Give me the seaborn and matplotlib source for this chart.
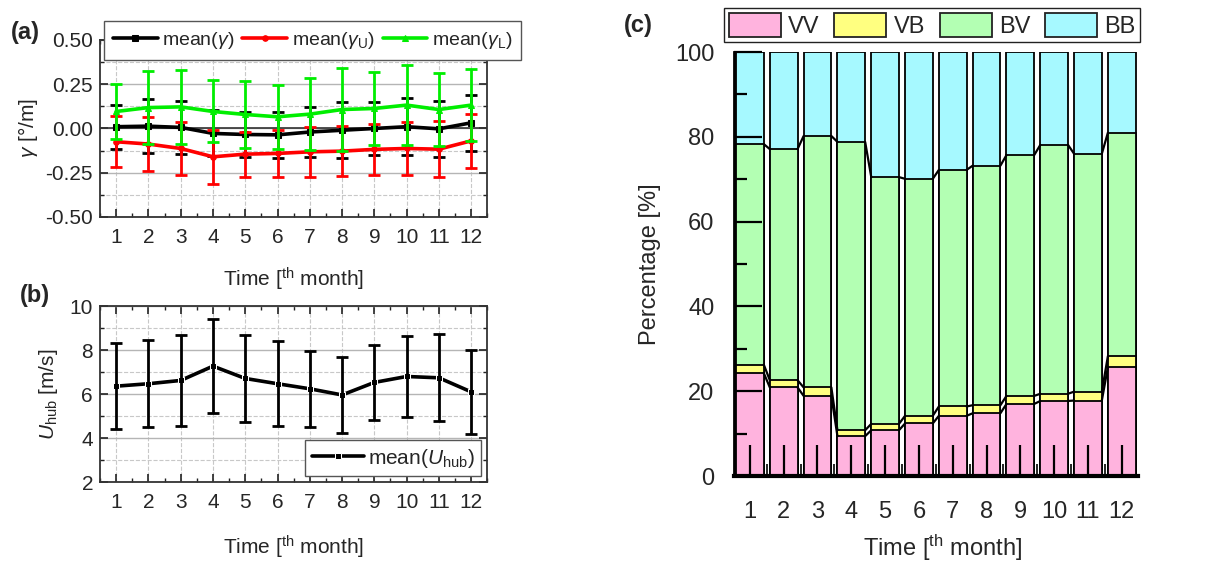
import numpy as np
import matplotlib
matplotlib.use('Agg')
import matplotlib.pyplot as plt
from matplotlib.ticker import MultipleLocator, FixedLocator
from matplotlib.patches import Patch
import seaborn as sns

# data
months = np.arange(1, 13)
gam_mean = [0.010, 0.013, 0.006, -0.028, -0.034, -0.036, -0.020, -0.010, 0.000, 0.010, -0.002, 0.032]
gam_err = [0.125, 0.151, 0.150, 0.130, 0.127, 0.130, 0.142, 0.158, 0.148, 0.160, 0.157, 0.157]
gamU_mean = [-0.075, -0.088, -0.113, -0.160, -0.145, -0.141, -0.132, -0.128, -0.118, -0.113, -0.117, -0.070]
gamU_err = [0.143, 0.150, 0.147, 0.151, 0.127, 0.135, 0.141, 0.143, 0.142, 0.147, 0.159, 0.154]
gamL_mean = [0.096, 0.118, 0.122, 0.096, 0.079, 0.066, 0.081, 0.107, 0.113, 0.132, 0.107, 0.132]
gamL_err = [0.158, 0.205, 0.208, 0.175, 0.189, 0.181, 0.203, 0.232, 0.207, 0.227, 0.208, 0.203]

u_mean = [6.36, 6.47, 6.62, 7.27, 6.71, 6.47, 6.24, 5.96, 6.53, 6.80, 6.74, 6.10]
u_err = [1.96, 1.97, 2.07, 2.13, 1.97, 1.93, 1.73, 1.74, 1.70, 1.82, 1.98, 1.90]

vv = [24.3, 20.9, 18.9, 9.4, 10.8, 12.4, 14.2, 14.8, 17.0, 17.7, 17.8, 25.7]
vb = [2.0, 1.7, 2.0, 1.4, 1.5, 1.8, 2.2, 1.9, 1.9, 1.7, 2.1, 2.6]
bv = [52.0, 54.5, 59.3, 68.0, 58.2, 55.9, 55.8, 56.5, 56.8, 58.7, 56.1, 52.7]
bb = [21.7, 22.9, 19.8, 21.2, 29.5, 29.9, 27.8, 26.8, 24.3, 21.9, 24.0, 19.0]

stack_names = ['VV', 'VB', 'BV', 'BB']
stack_colors = ['#FFB3DE', '#FFFF80', '#B3FFB3', '#A6F9FF']

sns.set_theme(style='ticks')
plt.rcParams['font.family'] = ['Liberation Sans', 'DejaVu Sans']
plt.rcParams['mathtext.fontset'] = 'custom'
plt.rcParams['mathtext.rm'] = 'Liberation Sans'
plt.rcParams['mathtext.it'] = 'Liberation Sans:italic'
plt.rcParams['font.size'] = 15

fig = plt.figure(figsize=(12.14, 5.62), dpi=100)
ax_a = fig.add_axes([0.0824, 0.6139, 0.319, 0.315])
ax_b = fig.add_axes([0.0824, 0.1423, 0.319, 0.313])
ax_c = fig.add_axes([0.6046, 0.153, 0.3328, 0.7544])

xlab = r'Time [$^{\rm th}$ month]'


def style_line_axes(ax):
    ax.set_xlim(0.5, 12.5)
    ax.xaxis.set_major_locator(MultipleLocator(1))
    ax.xaxis.set_minor_locator(MultipleLocator(0.5))
    ax.tick_params(which='both', direction='in', labelsize=15, color='#222222',
                   top=True, right=True)
    ax.tick_params(which='major', length=6, width=1.2)
    ax.tick_params(which='minor', length=3, width=1)
    ax.tick_params(axis='x', pad=8)
    ax.tick_params(axis='y', pad=5)
    ax.grid(which='major', axis='y', color='#b5b5b5', ls='-', lw=1)
    ax.grid(which='minor', axis='y', color='#c8c8c8', ls='--', lw=0.8)
    ax.grid(which='major', axis='x', color='#c8c8c8', ls='--', lw=0.8)
    for s in ax.spines.values():
        s.set_visible(True)
        s.set_color('#333333')
        s.set_linewidth(1.3)


# (a)
series = [(gam_mean, gam_err, 'black', 's', r'mean($\gamma$)'),
          (gamU_mean, gamU_err, '#FF0000', 'o', r'mean($\gamma_{\rm U}$)'),
          (gamL_mean, gamL_err, '#00EE00', '^', r'mean($\gamma_{\rm L}$)')]
ax_a.axhline(0, color='#333333', lw=1.2, zorder=1)
for m, e, c, mk, lab in series:
    sns.lineplot(x=months, y=m, color=c, marker=mk, markersize=4, lw=2.6,
                 markeredgecolor=c, ax=ax_a, label=lab, zorder=3)
    ax_a.errorbar(months, m, yerr=e, fmt='none', ecolor=c, elinewidth=2,
                  capsize=4, capthick=2, zorder=3)
style_line_axes(ax_a)
ax_a.set_ylim(-0.5, 0.5)
ax_a.yaxis.set_major_locator(MultipleLocator(0.25))
ax_a.yaxis.set_minor_locator(MultipleLocator(0.125))
ax_a.yaxis.set_major_formatter(matplotlib.ticker.FormatStrFormatter('%.2f'))
ax_a.set_xlabel(xlab, fontsize=15, va='center')
ax_a.xaxis.set_label_coords(0.5, -0.35)
ax_a.set_ylabel(r'$\gamma$ [°/m]', fontsize=15, va='center')
ax_a.yaxis.set_label_coords(-0.186, 0.5)
ax_a.legend(loc='upper left', bbox_to_anchor=(0.0857, 0.962), bbox_transform=fig.transFigure,
            ncol=3, fontsize=14, frameon=True, fancybox=False, edgecolor='#555555',
            framealpha=1, handlelength=2.3, columnspacing=0.4, handletextpad=0.25,
            borderpad=0.45, borderaxespad=0)

# (b)
sns.lineplot(x=months, y=u_mean, color='black', marker='s', markersize=4, lw=2.6,
             ax=ax_b, label=r'mean($U_{\rm hub}$)', zorder=3)
ax_b.errorbar(months, u_mean, yerr=u_err, fmt='none', ecolor='black', elinewidth=2,
              capsize=4, capthick=2, zorder=3)
style_line_axes(ax_b)
ax_b.set_ylim(2, 10)
ax_b.yaxis.set_major_locator(MultipleLocator(2))
ax_b.yaxis.set_minor_locator(MultipleLocator(1))
ax_b.set_xlabel(xlab, fontsize=15, va='center')
ax_b.xaxis.set_label_coords(0.5, -0.369)
ax_b.set_ylabel(r'$U_{\rm hub}$ [m/s]', fontsize=15, va='center')
ax_b.yaxis.set_label_coords(-0.134, 0.5)
ax_b.legend(loc='lower right', fontsize=15, frameon=True, fancybox=False,
            edgecolor='#555555', framealpha=1, handlelength=2.5, handletextpad=0.2,
            borderpad=0.3, borderaxespad=0.3)

# (c) stacked percentages
layers = [vv, vb, bv, bb]
cum = np.cumsum(np.array(layers), axis=0)
width = 0.82
for k in range(3, -1, -1):
    sns.barplot(x=months, y=cum[k], color=stack_colors[k], saturation=1, width=width,
                edgecolor='black', linewidth=1.3, ax=ax_c, zorder=1)
pos = np.arange(len(months))
for k in range(3):
    for i in range(len(months) - 1):
        ax_c.plot([pos[i] + width / 2, pos[i + 1] - width / 2], [cum[k][i], cum[k][i + 1]],
                  color='black', lw=1.6, zorder=2)
ax_c.set_xlim(-0.47, 11.48)
ax_c.set_ylim(0, 100)
ax_c.set_axisbelow(False)
ax_c.yaxis.set_major_locator(MultipleLocator(20))
ax_c.yaxis.set_minor_locator(MultipleLocator(10))
ax_c.xaxis.set_minor_locator(FixedLocator(np.arange(-0.5, 12, 1)))
ax_c.tick_params(which='both', direction='in', labelsize=17, color='black')
ax_c.tick_params(axis='y', which='major', length=20, width=1.6, pad=14)
ax_c.tick_params(axis='y', which='minor', length=9, width=1.6)
ax_c.tick_params(axis='x', which='major', length=22, width=1.6, pad=18)
ax_c.tick_params(axis='x', which='minor', length=9, width=1.2)
for s in ['top', 'right']:
    ax_c.spines[s].set_visible(False)
ax_c.spines['left'].set_linewidth(2)
ax_c.spines['bottom'].set_linewidth(3)
ax_c.spines['left'].set_color('black')
ax_c.spines['bottom'].set_color('black')
ax_c.set_xlabel(xlab, fontsize=17, va='center')
ax_c.xaxis.set_label_coords(0.517, -0.17)
ax_c.set_ylabel('Percentage [%]', fontsize=17, va='center')
ax_c.yaxis.set_label_coords(-0.208, 0.5)
handles = [Patch(facecolor=c, edgecolor='#222222', lw=1.3) for c in stack_colors]
fig.legend(handles, stack_names, loc='upper left', bbox_to_anchor=(0.5964, 0.986),
           ncol=4, fontsize=17, frameon=True, fancybox=False, edgecolor='#222222',
           framealpha=1, handlelength=2.2, handleheight=1.2, columnspacing=0.64,
           handletextpad=0.3, borderpad=0.2, borderaxespad=0)

# panel letters
fig.text(0.009, 0.943, '(a)', fontsize=17, fontweight='bold', va='center')
fig.text(0.016, 0.475, '(b)', fontsize=17, fontweight='bold', va='center')
fig.text(0.514, 0.955, '(c)', fontsize=17, fontweight='bold', va='center')

fig.savefig('out.png', dpi=100)
